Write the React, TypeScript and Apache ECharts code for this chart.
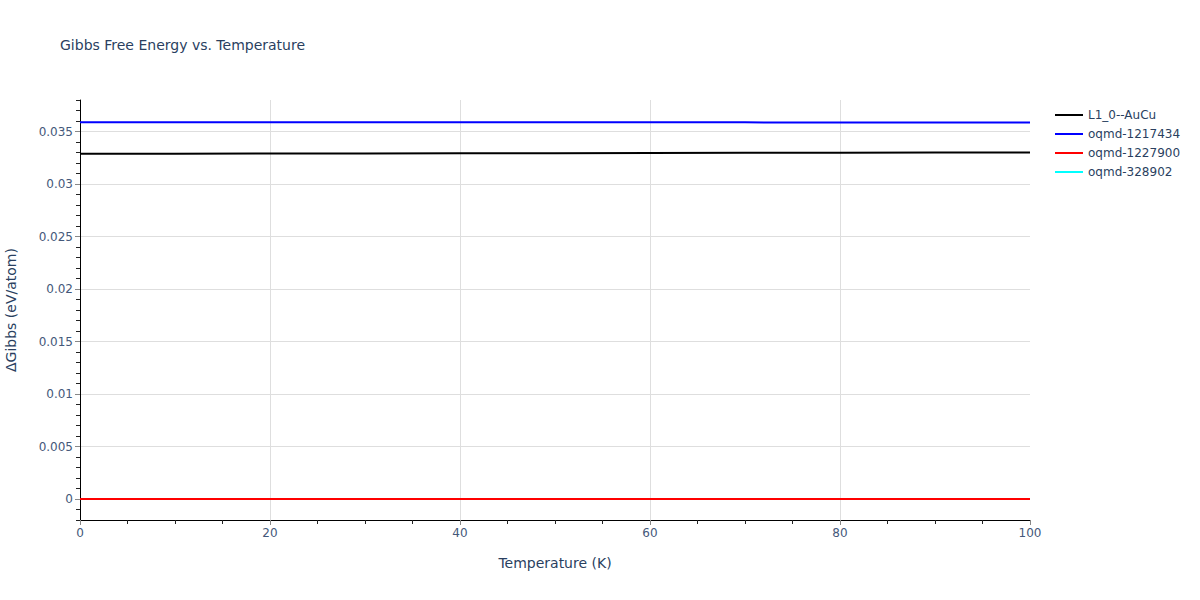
import React, { useEffect, useRef } from "react";
import * as echarts from "echarts";

const temperatures = [0, 10, 20, 30, 40, 50, 60, 70, 80, 90, 100];
const seriesNames = ["L1_0--AuCu", "oqmd-1217434", "oqmd-1227900", "oqmd-328902"];
const seriesColors = ["#000000", "#0000ff", "#ff0000", "#00ffff"];
const l10AuCu = [0.03287, 0.03288, 0.0329, 0.03291, 0.03292, 0.03294, 0.03295, 0.03297, 0.03298, 0.033, 0.03301];
const oqmd1217434 = [0.03588, 0.03588, 0.03588, 0.03588, 0.03587, 0.03587, 0.03587, 0.03587, 0.03586, 0.03586, 0.03586];
const oqmd1227900 = [0, 0, 0, 0, 0, 0, 0, 0, 0, 0, 0];
const oqmd328902: number[] = [];
const yMajorTicks = [0, 0.005, 0.01, 0.015, 0.02, 0.025, 0.03, 0.035];
const yMinorTicks = [
  -0.002, -0.001, 0.001, 0.002, 0.003, 0.004, 0.006, 0.007, 0.008, 0.009,
  0.011, 0.012, 0.013, 0.014, 0.016, 0.017, 0.018, 0.019, 0.021, 0.022,
  0.023, 0.024, 0.026, 0.027, 0.028, 0.029, 0.031, 0.032, 0.033, 0.034,
  0.036, 0.037, 0.038,
];

const seriesValues = [l10AuCu, oqmd1217434, oqmd1227900, oqmd328902];

const TEXT = "#2a3f5f";
const TICK_TEXT = "#44587a";
const FONT = "'DejaVu Sans', Verdana, sans-serif";

export default function App() {
  const ref = useRef<HTMLDivElement>(null);
  useEffect(() => {
    if (!ref.current) return;
    const chart = echarts.init(ref.current, undefined, { renderer: "svg" });
    chart.setOption({
      animation: false,
      textStyle: { fontFamily: FONT },
      title: {
        text: "Gibbs Free Energy vs. Temperature",
        left: 60,
        top: 38,
        padding: 0,
        textStyle: { fontFamily: FONT, fontSize: 14, fontWeight: "normal", color: TEXT },
      },
      legend: {
        orient: "vertical",
        left: 1055,
        top: 109,
        padding: 0,
        itemWidth: 28,
        itemHeight: 2,
        itemGap: 7,
        icon: "rect",
        textStyle: { fontFamily: FONT, fontSize: 12, color: TEXT },
        data: seriesNames,
      },
      grid: { left: 80, right: 170, top: 100, bottom: 80, containLabel: false, outerBoundsMode: "none" },
      xAxis: {
        type: "value",
        min: 0,
        max: 100,
        interval: 20,
        name: "Temperature (K)",
        nameLocation: "middle",
        nameGap: 36,
        nameTextStyle: { fontFamily: FONT, fontSize: 14, color: TEXT },
        axisLine: { show: true, onZero: false, lineStyle: { color: "#000", width: 1 } },
        axisTick: { show: true, length: 5, lineStyle: { color: "#888" } },
        minorTick: { show: true, splitNumber: 4, length: 4, lineStyle: { color: "#222" } },
        axisLabel: { margin: 7, fontFamily: FONT, fontSize: 12, color: TICK_TEXT },
        splitLine: { show: true, showMinLine: false, showMaxLine: false, lineStyle: { color: "#dedede", width: 1 } },
      },
      yAxis: [
        {
          type: "value",
          min: -0.002,
          max: 0.038,
          name: "ΔGibbs (eV/atom)",
          nameLocation: "middle",
          nameGap: 62,
          nameTextStyle: { fontFamily: FONT, fontSize: 14, color: TEXT },
          axisLine: { show: true, onZero: false, lineStyle: { color: "#000", width: 1 } },
          axisTick: { show: true, length: 5, customValues: yMajorTicks, lineStyle: { color: "#888" } },
          axisLabel: {
            margin: 7,
            fontFamily: FONT,
            fontSize: 12,
            color: TICK_TEXT,
            customValues: yMajorTicks,
            formatter: (v: number) => String(parseFloat(v.toFixed(4))),
          },
          splitLine: { show: true, customValues: yMajorTicks, lineStyle: { color: "#dedede", width: 1 } },
        },
        {
          type: "value",
          min: -0.002,
          max: 0.038,
          position: "left",
          axisLine: { show: false },
          axisTick: { show: true, length: 4, customValues: yMinorTicks, lineStyle: { color: "#222" } },
          axisLabel: { show: false },
          splitLine: { show: false },
        },
      ],
      series: seriesNames.map((name, i) => ({
        name,
        type: "line",
        yAxisIndex: 0,
        symbol: "none",
        lineStyle: { color: seriesColors[i], width: 2 },
        itemStyle: { color: seriesColors[i] },
        data: seriesValues[i].map((v, j) => [temperatures[j], v]),
      })),
    });
    return () => chart.dispose();
  }, []);
  return (
    <div
      ref={ref}
      style={{ position: "fixed", left: 0, top: 0, width: 1200, height: 600, background: "#fff" }}
    />
  );
}
